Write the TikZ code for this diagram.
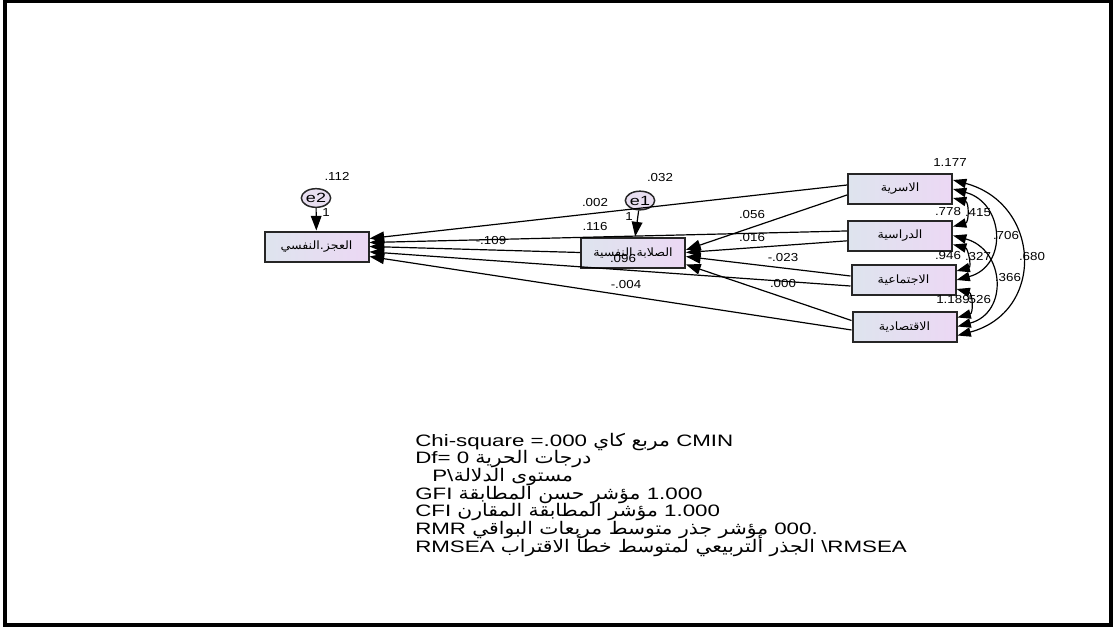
\documentclass[tikz,border=0pt]{standalone}
\usepackage{fontspec}
\setmainfont{Liberation Sans}
\newfontfamily\arabicfont[Script=Arabic,FakeStretch=1.1]{DejaVu Sans}
\newfontfamily\notearabic[Script=Arabic,FakeStretch=1.17,Scale=1.05]{DejaVu Sans}
\newfontfamily\notefont{Liberation Sans}[FakeStretch=1.35]
\newfontfamily\numfont{Liberation Sans}[FakeStretch=1.15]
\TeXXeTstate=1
\usetikzlibrary{arrows.meta,shapes.geometric}
\definecolor{boxleft}{RGB}{222,228,238}
\definecolor{boxright}{RGB}{236,216,244}
\definecolor{errfill}{RGB}{232,222,240}
\begin{document}
\begin{tikzpicture}[x=0.75pt,y=0.75pt,
  var/.style={draw=black!85,line width=1.5pt,left color=boxleft,right color=boxright,
    minimum width=78pt,minimum height=22.5pt,inner sep=0pt,font=\arabicfont\fontsize{8.6}{9}\selectfont},
  err/.style={ellipse,draw=black!85,line width=1.1pt,fill=errfill,inner sep=0pt,
    minimum width=22pt,minimum height=14pt,font=\notefont\fontsize{10}{10}\selectfont},
  regr/.style={line width=0.9pt,-{Triangle[length=11pt,width=8pt]}},
  cov/.style={line width=0.9pt,{Triangle[length=10pt,width=7pt]}-{Triangle[length=10pt,width=7pt]},
    out=-15,in=15,looseness=1.5},
  est/.style={inner sep=0pt,font=\numfont\fontsize{8.7}{9}\selectfont},
  note/.style={inner sep=0pt,anchor=base west,font=\notefont\fontsize{12.4}{13.3}\selectfont}]
  \useasboundingbox (0,0) rectangle (1117,-629);
  \draw[line width=2.4pt] (5,-1.5) rectangle (1111,-625);

  \node[var] (adj) at (316.5,-246.5) {\beginR العجز.النفسي\endR};
  \node[var] (med) at (633,-252.5) {\beginR الصلابة.النفسية\endR};
  \node[var] (usra) at (900,-189) {\beginR الاسرية\endR};
  \node[var] (dira) at (900,-235.5) {\beginR الدراسية\endR};
  \node[var] (ijti) at (903.5,-280) {\beginR الاجتماعية\endR};
  \node[var] (iqti) at (904.5,-326.5) {\beginR الاقتصادية\endR};
  \node[err] (e2) at (316,-198) {e2};
  \node[err] (e1) at (640,-200.5) {e1};

  \draw[regr] (e2) -- (adj);
  \draw[regr] (e1) -- (med);
  \draw[regr] ([yshift=3pt]usra.west) -- ([yshift=6pt]adj.east);
  \draw[regr] ([yshift=3.4pt]dira.west) -- ([yshift=3pt]adj.east);
  \draw[regr] (med.west) -- (adj.east);
  \draw[regr] ([yshift=-4.5pt]ijti.west) -- ([yshift=-4pt]adj.east);
  \draw[regr] ([yshift=-2.6pt]iqti.west) -- ([yshift=-7.5pt]adj.east);
  \draw[regr] ([yshift=-4.5pt]usra.west) -- ([yshift=2pt]med.east);
  \draw[regr] ([yshift=-4pt]dira.west) -- (med.east);
  \draw[regr] ([yshift=3pt]ijti.west) -- ([yshift=-3pt]med.east);
  \draw[regr] ([yshift=4.5pt]iqti.west) -- ([yshift=-9pt]med.east);

  \draw[cov] ([yshift=-6.75pt]usra.east) to ([yshift=6.75pt]dira.east);
  \draw[cov] (usra.east) to (ijti.east);
  \draw[cov] ([yshift=6.75pt]usra.east) to ([yshift=-6.75pt]iqti.east);
  \draw[cov] ([yshift=-6.75pt]dira.east) to ([yshift=6.75pt]ijti.east);
  \draw[cov] (dira.east) to (iqti.east);
  \draw[cov] ([yshift=-6.75pt]ijti.east) to ([yshift=6.75pt]iqti.east);

  \node[est] (ve2) at (337,-176) {.112};
  \node[est] (ve1) at (660,-178) {.032};
  \node[est] (fe2) at (326,-213) {1};
  \node[est] (fe1) at (629,-217) {1};
  \node[est] (b1) at (595,-203) {.002};
  \node[est] (b2) at (595,-227) {.116};
  \node[est] (b3) at (491,-241) {-.109};
  \node[est] (b4) at (623,-259) {.096};
  \node[est] (b5) at (626,-284) {-.004};
  \node[est] (a1) at (752,-215) {.056};
  \node[est] (a2) at (752,-238) {.016};
  \node[est] (a3) at (783,-258) {-.023};
  \node[est] (a4) at (783,-283) {.000};
  \node[est] (vusra) at (950,-163) {1.177};
  \node[est] (vdira) at (948,-212) {.778};
  \node[est] (vijti) at (948,-256) {.946};
  \node[est] (viqti) at (953,-300) {1.189};
  \node[est] (c12) at (978,-213) {.415};
  \node[est] (c13) at (1006,-236) {.706};
  \node[est] (c14) at (1032,-257) {.680};
  \node[est] (c23) at (978,-257) {.327};
  \node[est] (c24) at (1008,-278) {.366};
  \node[est] (c34) at (978,-300) {.526};

  \node[note] (cmin) at (415,-446) {Chi-square =.000 {\notearabic\beginR مربع كاي\endR} CMIN};
  \node[note] (df) at (415,-463.7) {Df= 0 {\notearabic\beginR درجات الحرية\endR}};
  \node[note] (pmac) at (432,-481.4) {P\textbackslash};
  \node[note] (pval) at (pmac.base east) {\notearabic\beginR مستوى الدلالة\endR};
  \node[note] (gfi) at (415,-499) {GFI {\notearabic\beginR مؤشر حسن المطابقة\endR} 1.000};
  \node[note] (cfi) at (415,-516.7) {CFI {\notearabic\beginR مؤشر المطابقة المقارن\endR} 1.000};
  \node[note] (rmr) at (415,-534.4) {RMR {\notearabic\beginR مؤشر جذر متوسط مربعات البواقي\endR} 000.};
  \node[note] (rmsea) at (415,-552) {RMSEA {\notearabic\beginR الجذر ألتربيعي لمتوسط خطأ الاقتراب\endR} \textbackslash RMSEA};
\end{tikzpicture}
\end{document}
